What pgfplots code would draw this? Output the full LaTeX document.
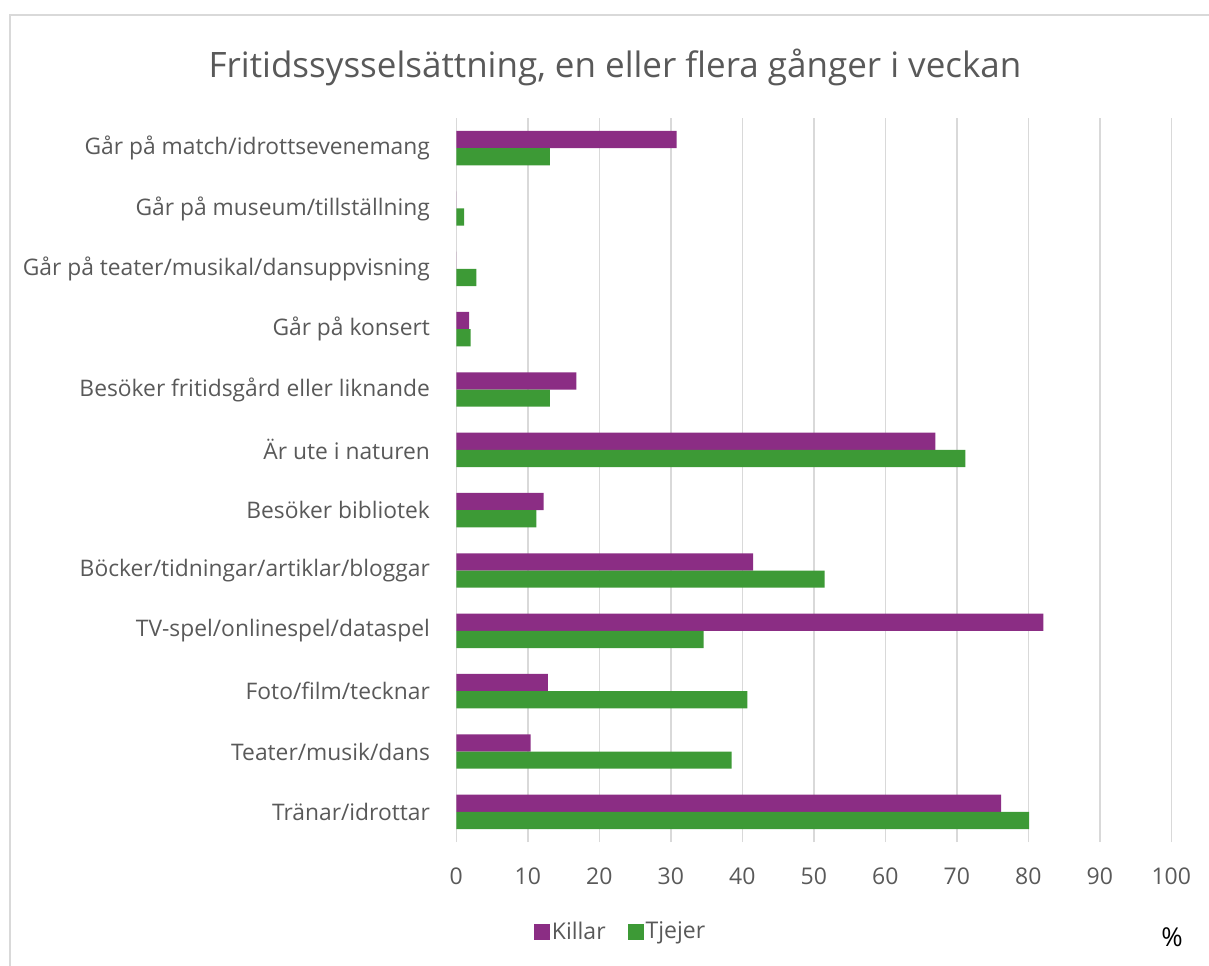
\documentclass[border=0pt]{standalone}
\usepackage{fontspec}
\setmainfont{Open Sans}
\usepackage{pgfplots}
\pgfplotsset{compat=1.18}
\definecolor{killar}{HTML}{8B2D84}
\definecolor{tjejer}{HTML}{3D9A36}
\definecolor{txt}{HTML}{595959}
\definecolor{grd}{HTML}{D9D9D9}
\begin{document}
\begin{tikzpicture}[x=1pt,y=1pt]
\path[use as bounding box] (0,0) rectangle (604.5,482.5);
\draw[grd, line width=1pt] (5,-2) -- (5,475) -- (610,475);
\node[anchor=base, text=txt, font=\fontsize{17.5}{21}\selectfont, inner sep=0pt] at (307.5,443.5) {Fritidssysselsättning, en eller flera gånger i veckan};
\node[anchor=base, text=black, font=\fontsize{13}{15}\selectfont, inner sep=0pt] at (586,9.5) {\%};
\begin{axis}[
  at={(228.15pt,61.5pt)}, anchor=south west, scale only axis,
  width=357.5pt, height=362pt,
  xbar, bar width=8.6pt,
  xmin=0, xmax=100, ymin=-0.5, ymax=11.5,
  xtick={0,10,...,100},
  ytick={0,...,11},
  yticklabels={Tränar/idrottar, Teater/musik/dans, Foto/film/tecknar, TV-spel/onlinespel/dataspel, Böcker/tidningar/artiklar/bloggar, Besöker bibliotek, Är ute i naturen, Besöker fritidsgård eller liknande, Går på konsert, Går på teater/musikal/dansuppvisning, Går på museum/tillställning, Går på match/idrottsevenemang},
  xmajorgrids, grid style={grd, line width=0.75pt},
  axis line style={draw=none},
  major tick length=0pt, tick style={draw=none},
  /pgf/number format/assume math mode=true,
  xticklabel style={text=txt, font=\fontsize{11.5}{13}\selectfont, inner sep=0pt, yshift=-12.5pt},
  yticklabel style={text=txt, font=\fontsize{11.4}{13}\selectfont, inner sep=0pt, xshift=-13pt},
  legend style={at={(0.2297,-0.1243)}, anchor=center, draw=none, fill=none, legend columns=2,
    font=\fontsize{11.5}{13}\selectfont, text=txt, inner sep=0pt,
    /tikz/every even column/.append style={column sep=10pt},
    nodes={inner sep=1pt}},
  legend image code/.code={\fill[#1] (0pt,-4pt) rectangle (8pt,4pt);},
]
\addplot[fill=killar, draw=none, bar shift=4.3pt] coordinates {
(76.2,0) (10.4,1) (12.8,2) (82.1,3) (41.5,4) (12.2,5) (67.0,6) (16.8,7) (1.8,8) (0,9) (0,10) (30.8,11)};
\addlegendentry{Killar}
\addplot[fill=tjejer, draw=none, bar shift=-4.3pt] coordinates {
(80.1,0) (38.5,1) (40.7,2) (34.6,3) (51.5,4) (11.2,5) (71.2,6) (13.1,7) (2.0,8) (2.8,9) (1.1,10) (13.1,11)};
\addlegendentry{Tjejer}
\end{axis}
\end{tikzpicture}
\end{document}
